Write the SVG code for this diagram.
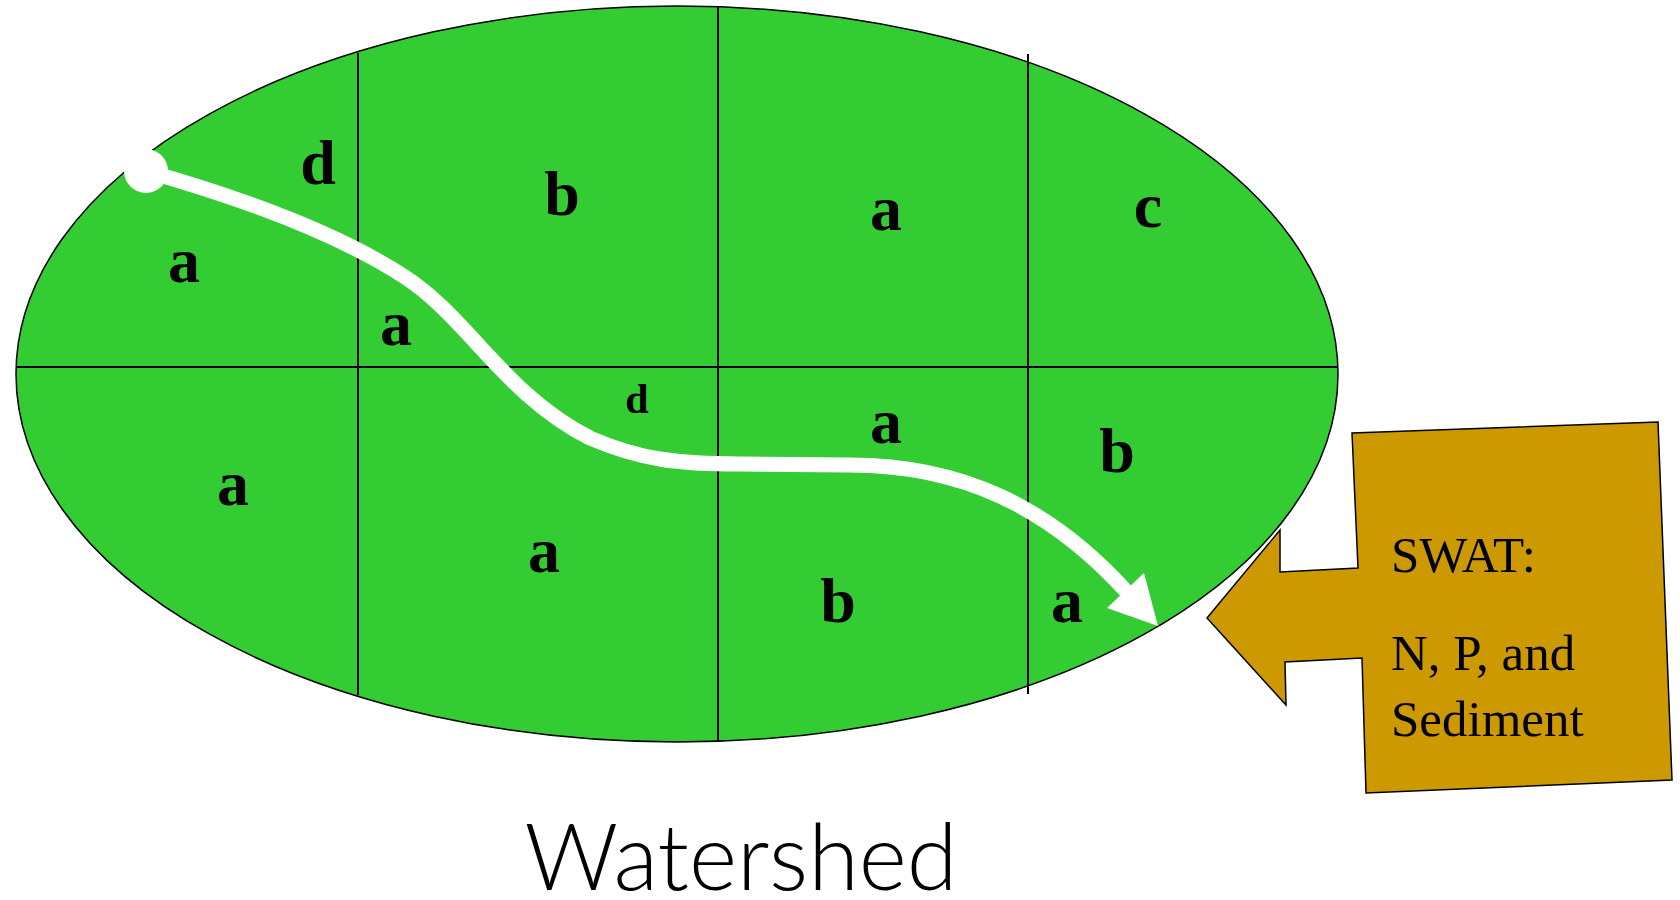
<svg xmlns="http://www.w3.org/2000/svg" width="1680" height="900" viewBox="0 0 1680 900">
  <style>
    .grid { stroke: #000; stroke-width: 2; fill: none; }
    .lbl { font-family: "Liberation Serif", "DejaVu Serif", serif; font-weight: bold; font-size: 64px; fill: #000; text-anchor: middle; }
    .lbl-s { font-size: 42px; }
    .swat { font-family: "Liberation Serif", "DejaVu Serif", serif; font-size: 51px; fill: #000; }
    .title { font-family: Lato, "Open Sans", sans-serif; font-weight: 300; font-size: 92px; fill: #000; text-anchor: middle; }
    .flow { fill: none; stroke: #fff; stroke-width: 15; stroke-linecap: butt; stroke-linejoin: round; }
  </style>

  <g id="watershed">
    <ellipse cx="677" cy="374" rx="661" ry="368" fill="#33CC33" stroke="#000" stroke-width="1.5"/>
    <line class="grid" x1="16" y1="367" x2="1338" y2="367"/>
    <line class="grid" x1="358" y1="53" x2="358" y2="695"/>
    <line class="grid" x1="718" y1="6" x2="718" y2="742"/>
    <line class="grid" x1="1028" y1="54" x2="1028" y2="694"/>
  </g>

  <g id="labels">
    <text class="lbl" x="318" y="184">d</text>
    <text class="lbl" x="184" y="282">a</text>
    <text class="lbl" x="396" y="345">a</text>
    <text class="lbl" x="562" y="215">b</text>
    <text class="lbl" x="886" y="230">a</text>
    <text class="lbl" x="1148" y="227">c</text>
    <text class="lbl lbl-s" x="637" y="413">d</text>
    <text class="lbl" x="886" y="443">a</text>
    <text class="lbl" x="1117" y="472">b</text>
    <text class="lbl" x="233" y="505">a</text>
    <text class="lbl" x="544" y="572">a</text>
    <text class="lbl" x="838" y="622">b</text>
    <text class="lbl" x="1067" y="622">a</text>
  </g>

  <g id="connectors">
    <path class="flow" d="M146,171 C255,202 345,238 405,277 C468,318 505,395 590,438 C640,460 680,464 740,464 L850,465 C960,465 1048.5,506 1126,591"/>
    <polygon points="1158,626 1107,608 1144,573" fill="#fff"/>
    <circle cx="146" cy="171" r="22" fill="#fff"/>
  </g>

  <g id="swat-callout">
    <polygon points="1352,433 1658,422 1672,780 1366,793 1362,658 1285,662 1286,705 1207,618 1280,530 1280,572 1358,568" fill="#CC9900" stroke="#000" stroke-width="1.5" stroke-linejoin="miter"/>
    <text class="swat" x="1391" y="572">SWAT:</text>
    <text class="swat" x="1391" y="670">N, P, and</text>
    <text class="swat" x="1391" y="736">Sediment</text>
  </g>

  <g id="title">
    <text class="title" x="741" y="890" textLength="433" lengthAdjust="spacingAndGlyphs">Watershed</text>
  </g>
</svg>
